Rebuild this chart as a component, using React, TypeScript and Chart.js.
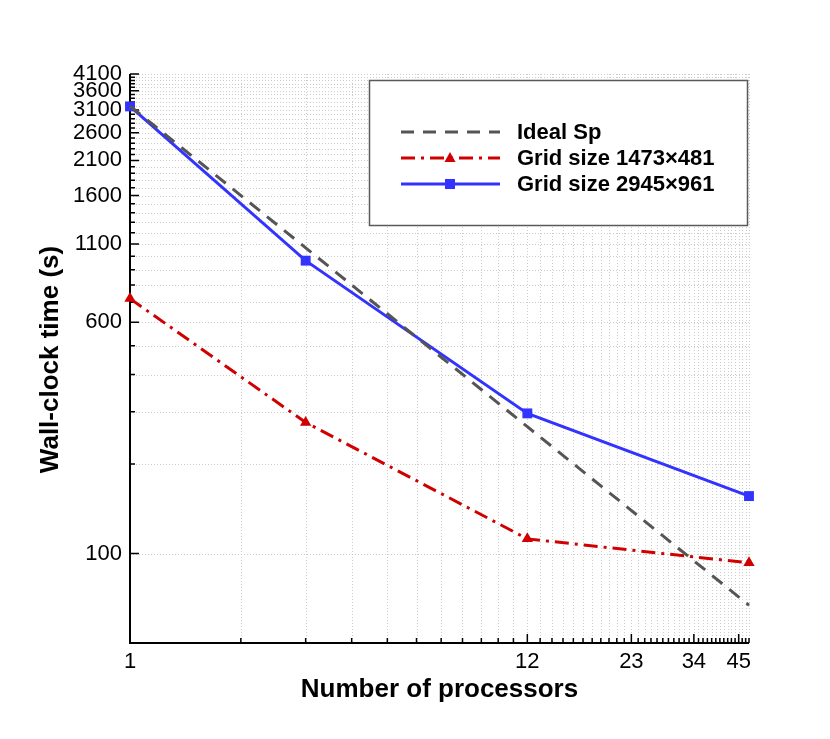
import { useEffect, useRef } from "react"
import { Chart, registerables } from "chart.js"

Chart.register(...registerables)

// Data
const processors = [1, 3, 12, 48]
const idealSp = [3200, 1067, 267, 67]
const grid1473 = [720, 276, 112, 93]
const grid2945 = [3190, 966, 296, 156]

const xLabels = [1, 12, 23, 34, 45]
const yLabels = [100, 600, 1100, 1600, 2100, 2600, 3100, 3600, 4100]

// minor tick positions
const xTicks: number[] = []
for (let i = 1; i <= 48; i++) xTicks.push(i)
const yTicks: number[] = []
for (let v = 100; v <= 4100; v += 100) yTicks.push(v)

const FONT = "'Liberation Sans', Arial, Helvetica, sans-serif"

const IDEAL_DASH = [13, 9]
const RED_DASH = [14, 6, 3, 6]

const legendItems = [
  { label: "Ideal Sp", color: "#555555", dash: IDEAL_DASH, marker: "" },
  { label: "Grid size 1473\u00d7481", color: "#d00000", dash: RED_DASH, marker: "triangle" },
  { label: "Grid size 2945\u00d7961", color: "#3333ff", dash: [], marker: "rect" },
]

const decorPlugin = {
  id: "decor",
  beforeDatasetsDraw(chart: any) {
    const { ctx, chartArea: a, scales } = chart
    const x = scales.x
    const y = scales.y
    ctx.save()
    // dotted grid
    ctx.strokeStyle = "#cccccc"
    ctx.lineWidth = 1
    ctx.setLineDash([1, 2])
    ctx.beginPath()
    for (const v of xTicks) {
      const px = Math.round(x.getPixelForValue(v)) + 0.5
      ctx.moveTo(px, a.top)
      ctx.lineTo(px, a.bottom)
    }
    for (const v of yTicks) {
      const py = Math.round(y.getPixelForValue(v)) + 0.5
      ctx.moveTo(a.left, py)
      ctx.lineTo(a.right, py)
    }
    ctx.stroke()
    ctx.setLineDash([])

    // inward tick marks
    ctx.strokeStyle = "#000"
    ctx.lineWidth = 1.5
    ctx.beginPath()
    for (const v of xTicks) {
      const px = x.getPixelForValue(v)
      const len = xLabels.includes(v) ? 9 : 5
      ctx.moveTo(px, a.bottom)
      ctx.lineTo(px, a.bottom - len)
    }
    for (const v of yTicks) {
      const py = y.getPixelForValue(v)
      const len = yLabels.includes(v) ? 9 : 5
      ctx.moveTo(a.left, py)
      ctx.lineTo(a.left + len, py)
    }
    ctx.stroke()

    // left and bottom axis lines
    ctx.lineWidth = 2
    ctx.beginPath()
    ctx.moveTo(a.left, a.top)
    ctx.lineTo(a.left, a.bottom)
    ctx.lineTo(a.right, a.bottom)
    ctx.stroke()
    ctx.restore()
  },
  afterDatasetsDraw(chart: any) {
    const { ctx, chartArea: a } = chart
    ctx.save()
    // legend box
    ctx.fillStyle = "#fff"
    ctx.strokeStyle = "#5a5a5a"
    ctx.lineWidth = 1.5
    ctx.fillRect(369.5, 80.5, 378, 145)
    ctx.strokeRect(369.5, 80.5, 378, 145)

    legendItems.forEach((item, i) => {
      const ly = 132 + i * 26
      ctx.strokeStyle = item.color
      ctx.fillStyle = item.color
      ctx.lineWidth = 3
      ctx.setLineDash(item.dash)
      ctx.beginPath()
      ctx.moveTo(401, ly)
      ctx.lineTo(500, ly)
      ctx.stroke()
      ctx.setLineDash([])
      if (item.marker === "rect") {
        ctx.fillRect(445, ly - 5, 10, 10)
      } else if (item.marker === "triangle") {
        ctx.beginPath()
        ctx.moveTo(450, ly - 6)
        ctx.lineTo(455.5, ly + 4)
        ctx.lineTo(444.5, ly + 4)
        ctx.closePath()
        ctx.fill()
      }
      ctx.fillStyle = "#000"
      ctx.font = `bold 22px ${FONT}`
      ctx.textAlign = "left"
      ctx.textBaseline = "middle"
      ctx.fillText(item.label, 517, ly + 1)
    })

    // axis titles
    ctx.fillStyle = "#000"
    ctx.font = `bold 26px ${FONT}`
    ctx.textAlign = "center"
    ctx.textBaseline = "middle"
    ctx.fillText("Number of processors", (a.left + a.right) / 2, 690)
    ctx.translate(51, (a.top + a.bottom) / 2 + 1)
    ctx.rotate(-Math.PI / 2)
    ctx.fillText("Wall-clock time (s)", 0, 0)
    ctx.restore()
  },
}

function SpeedupChart() {
  const chartRef = useRef<HTMLCanvasElement>(null)
  const chartInstance = useRef<Chart | null>(null)

  useEffect(() => {
    if (!chartRef.current) return
    if (chartInstance.current) chartInstance.current.destroy()
    const ctx = chartRef.current.getContext("2d")
    if (!ctx) return

    const toPoints = (vals: number[]) => processors.map((p, i) => ({ x: p, y: vals[i] }))

    chartInstance.current = new Chart(ctx, {
      type: "line",
      data: {
        datasets: [
          {
            label: "Ideal Sp",
            data: toPoints(idealSp),
            borderColor: "#555555",
            borderWidth: 3,
            borderDash: IDEAL_DASH,
            pointRadius: 0,
            clip: false,
          },
          {
            label: "Grid size 1473×481",
            data: toPoints(grid1473),
            borderColor: "#d00000",
            backgroundColor: "#d00000",
            borderWidth: 3,
            borderDash: RED_DASH,
            pointStyle: "triangle",
            pointRadius: 6.5,
            pointBorderWidth: 0,
            clip: false,
          },
          {
            label: "Grid size 2945×961",
            data: toPoints(grid2945),
            borderColor: "#3333ff",
            backgroundColor: "#3333ff",
            borderWidth: 3,
            pointStyle: "rect",
            pointRadius: 7,
            pointBorderWidth: 0,
            clip: false,
          },
        ],
      } as any,
      options: {
        animation: false,
        responsive: true,
        maintainAspectRatio: false,
        layout: { padding: { top: 74, right: 81, left: 0, bottom: 0 } },
        plugins: {
          legend: { display: false },
          tooltip: { enabled: false },
        },
        scales: {
          x: {
            type: "logarithmic",
            min: 1,
            max: 48,
            grid: { display: false, drawTicks: false },
            border: { display: false },
            afterBuildTicks: (scale: any) => {
              scale.ticks = xTicks.map((v) => ({ value: v }))
            },
            afterFit: (scale: any) => {
              scale.height = 96
            },
            ticks: {
              autoSkip: false,
              maxRotation: 0,
              padding: 6,
              color: "#000",
              font: { family: FONT, size: 22 },
              callback: (value: any) => (xLabels.includes(Number(value)) ? String(value) : ""),
            },
          },
          y: {
            type: "logarithmic",
            min: 50,
            max: 4100,
            grid: { display: false, drawTicks: false },
            border: { display: false },
            afterBuildTicks: (scale: any) => {
              scale.ticks = yTicks.map((v) => ({ value: v }))
            },
            afterFit: (scale: any) => {
              scale.width = 130
            },
            ticks: {
              autoSkip: false,
              padding: 8,
              color: "#000",
              font: { family: FONT, size: 22 },
              callback: (value: any) => (yLabels.includes(Number(value)) ? String(value) : ""),
            },
          },
        },
      } as any,
      plugins: [decorPlugin],
    })

    return () => {
      if (chartInstance.current) {
        chartInstance.current.destroy()
        chartInstance.current = null
      }
    }
  }, [])

  return (
    <div style={{ position: "absolute", left: 0, top: 0, width: 830, height: 739, background: "#fff" }}>
      <canvas ref={chartRef} />
    </div>
  )
}

export default function App() {
  return <SpeedupChart />
}
